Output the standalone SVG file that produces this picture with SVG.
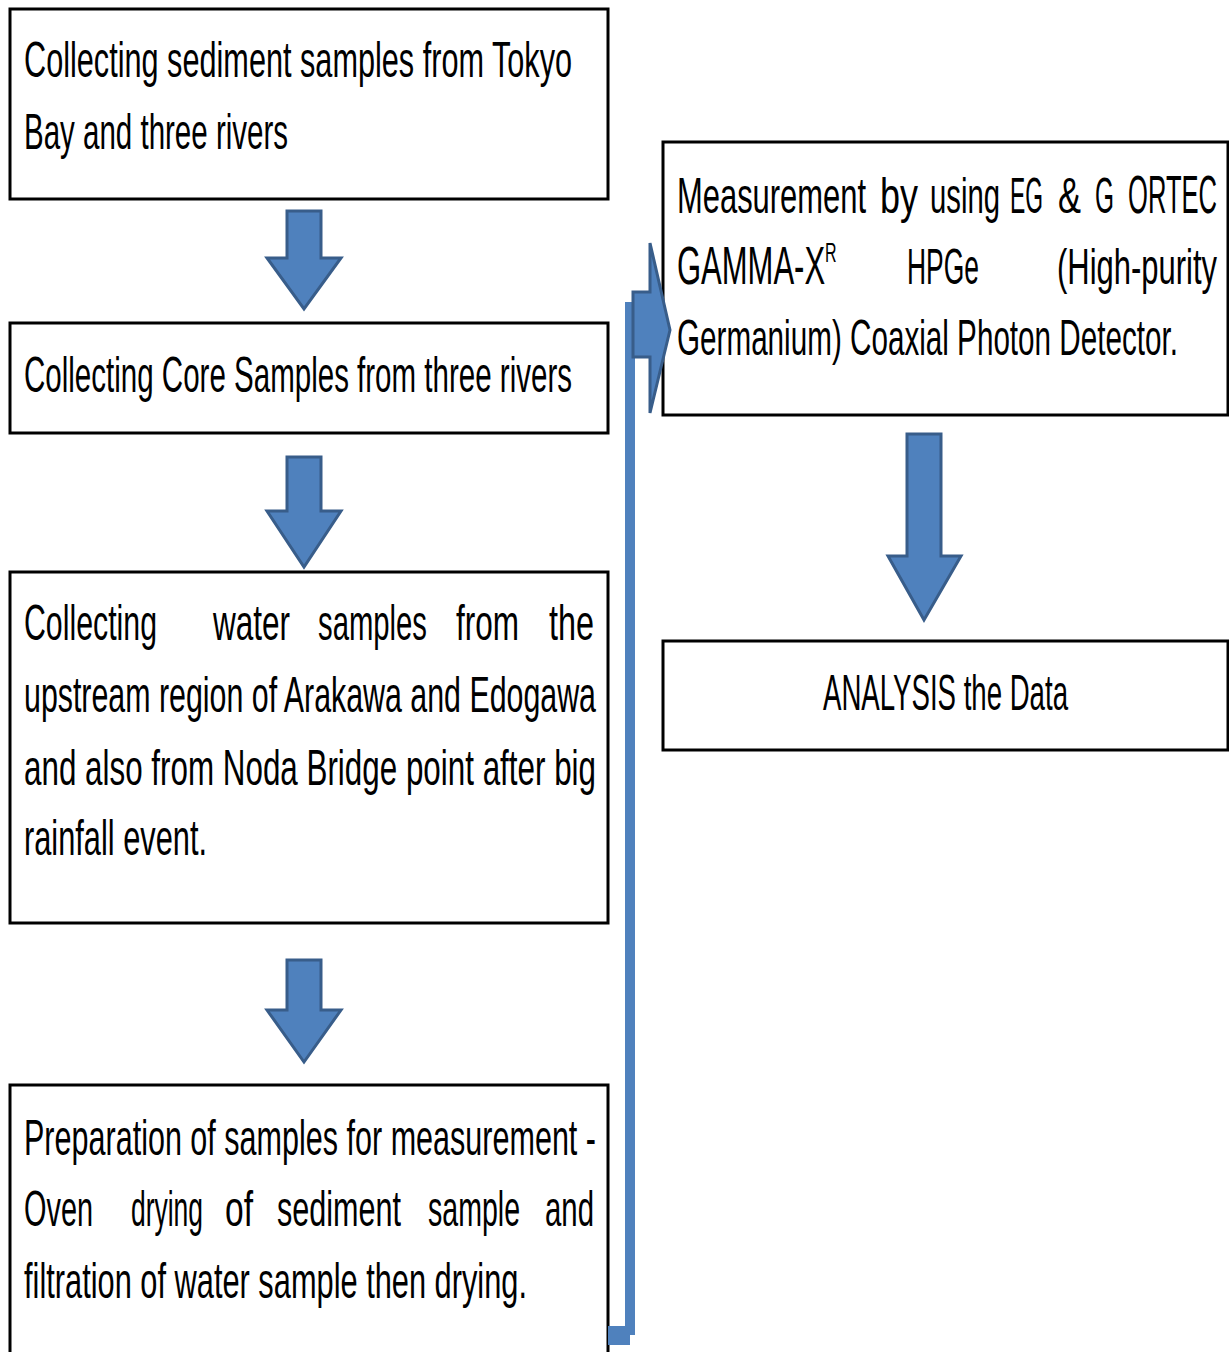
<svg xmlns="http://www.w3.org/2000/svg" width="1229" height="1352" viewBox="0 0 1229 1352">
<style>
.box{fill:#fff;stroke:#000;stroke-width:3}
.t{font-family:"Liberation Sans",Arial,sans-serif;font-size:31px;fill:#000}
.arr{fill:#4F81BD;stroke:#385D8A;stroke-width:3;stroke-linejoin:miter}
.bar{fill:#4F81BD}
</style>
<rect width="1229" height="1352" fill="#fff"/>
<g id="node1">
<rect class="box" x="10" y="9" width="598" height="190"/>
<text class="t" transform="translate(24,77) scale(1,1.6)" textLength="548" lengthAdjust="spacingAndGlyphs">Collecting sediment  samples from Tokyo</text>
<text class="t" transform="translate(24,149) scale(1,1.6)" textLength="264" lengthAdjust="spacingAndGlyphs">Bay and three rivers</text>
</g>
<g id="node2">
<rect class="box" x="10" y="323" width="598" height="110"/>
<text class="t" transform="translate(24,392) scale(1,1.6)" textLength="548" lengthAdjust="spacingAndGlyphs">Collecting Core Samples from three rivers</text>
</g>
<g id="node3">
<rect class="box" x="10" y="572" width="598" height="351"/>
<text class="t" transform="translate(24,640) scale(1,1.6)" textLength="133" lengthAdjust="spacingAndGlyphs">Collecting</text>
<text class="t" transform="translate(213,640) scale(1,1.6)" textLength="77" lengthAdjust="spacingAndGlyphs">water</text>
<text class="t" transform="translate(318,640) scale(1,1.6)" textLength="109" lengthAdjust="spacingAndGlyphs">samples</text>
<text class="t" transform="translate(456,640) scale(1,1.6)" textLength="63" lengthAdjust="spacingAndGlyphs">from</text>
<text class="t" transform="translate(549,640) scale(1,1.6)" textLength="45" lengthAdjust="spacingAndGlyphs">the</text>
<text class="t" transform="translate(24,712) scale(1,1.6)" textLength="572" lengthAdjust="spacingAndGlyphs">upstream region of Arakawa and Edogawa</text>
<text class="t" transform="translate(24,785) scale(1,1.6)" textLength="572" lengthAdjust="spacingAndGlyphs">and also from Noda Bridge point after big</text>
<text class="t" transform="translate(24,855) scale(1,1.6)" textLength="183" lengthAdjust="spacingAndGlyphs">rainfall event.</text>
</g>
<g id="node4">
<rect class="box" x="10" y="1085" width="598" height="280"/>
<text class="t" transform="translate(24,1155) scale(1,1.6)" textLength="572" lengthAdjust="spacingAndGlyphs">Preparation of samples for measurement -</text>
<text class="t" transform="translate(24,1226) scale(1,1.6)" textLength="69" lengthAdjust="spacingAndGlyphs">Oven</text>
<text class="t" transform="translate(131,1226) scale(1,1.6)" textLength="72" lengthAdjust="spacingAndGlyphs">drying</text>
<text class="t" transform="translate(225,1226) scale(1,1.6)" textLength="28" lengthAdjust="spacingAndGlyphs">of</text>
<text class="t" transform="translate(277,1226) scale(1,1.6)" textLength="124" lengthAdjust="spacingAndGlyphs">sediment</text>
<text class="t" transform="translate(428,1226) scale(1,1.6)" textLength="92" lengthAdjust="spacingAndGlyphs">sample</text>
<text class="t" transform="translate(545,1226) scale(1,1.6)" textLength="49" lengthAdjust="spacingAndGlyphs">and</text>
<text class="t" transform="translate(24,1298) scale(1,1.6)" textLength="503" lengthAdjust="spacingAndGlyphs">filtration of water sample then drying.</text>
</g>
<g id="node5">
<rect class="box" x="663" y="142" width="565" height="273"/>
<text class="t" transform="translate(677,213) scale(1,1.6)" textLength="189" lengthAdjust="spacingAndGlyphs">Measurement</text>
<text class="t" transform="translate(880,213) scale(1,1.6)" textLength="38" lengthAdjust="spacingAndGlyphs">by</text>
<text class="t" transform="translate(930,213) scale(1,1.6)" textLength="70" lengthAdjust="spacingAndGlyphs">using</text>
<text class="t" transform="translate(1010,213) scale(1,1.6)" textLength="33" lengthAdjust="spacingAndGlyphs">EG</text>
<text class="t" transform="translate(1058,213) scale(1,1.6)" textLength="23" lengthAdjust="spacingAndGlyphs">&amp;</text>
<text class="t" transform="translate(1095,213) scale(1,1.6)" textLength="19" lengthAdjust="spacingAndGlyphs">G</text>
<text class="t" font-size="29" text-anchor="end" transform="translate(1217,213) scale(1,1.71)" textLength="89" lengthAdjust="spacingAndGlyphs">ORTEC</text>
<text class="t" font-size="29" transform="translate(677,284) scale(1,1.71)">GAMMA-X<tspan font-size="16" dy="-13">R</tspan></text>
<text class="t" transform="translate(907,284) scale(1,1.6)" textLength="72" lengthAdjust="spacingAndGlyphs">HPGe</text>
<text class="t" transform="translate(1057,284) scale(1,1.6)" textLength="160" lengthAdjust="spacingAndGlyphs">(High-purity</text>
<text class="t" transform="translate(677,355) scale(1,1.6)" textLength="501" lengthAdjust="spacingAndGlyphs">Germanium) Coaxial Photon Detector.</text>
</g>
<g id="node6">
<rect class="box" x="663" y="641" width="565" height="109"/>
<text class="t" transform="translate(823,710) scale(1,1.6)" textLength="245" lengthAdjust="spacingAndGlyphs">ANALYSIS the Data</text>
</g>
<g id="connectors">
<polygon class="arr" points="287,211 321,211 321,258 341,258 304,309 267,258 287,258"/>
<polygon class="arr" points="287,457 321,457 321,511 341,511 304,567 267,511 287,511"/>
<polygon class="arr" points="287,960 321,960 321,1010 341,1010 304,1062 267,1010 287,1010"/>
<polygon class="arr" points="907,434 941,434 941,556 961,556 924,620 888,556 907,556"/>
<polygon class="bar" points="625,302 635,302 635,1335 630,1335 630,1345 608,1345 608,1326 625,1326"/>
<polygon class="arr" points="633,292 650,292 650,243 670,330 650,413 650,357 633,357"/>
</g>
</svg>
